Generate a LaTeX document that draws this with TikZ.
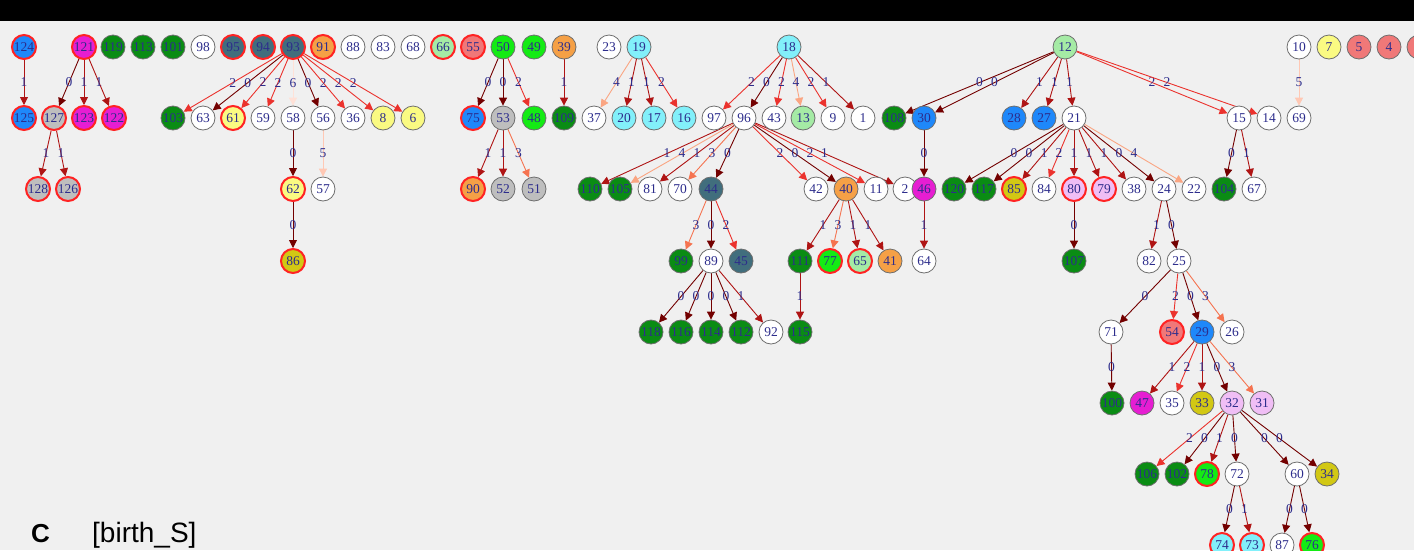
\documentclass[tikz,border=0pt]{standalone}
\usepackage{fontspec}
\setmainfont{Liberation Serif}
\newfontfamily\panelsans{Liberation Sans}
\usetikzlibrary{arrows.meta}

\newcommand\nfsize{\fontsize{13.5}{14}\selectfont}

\definecolor{bgpanel}{RGB}{240,240,240}
\definecolor{numblue}{RGB}{45,45,140}
\definecolor{ringgray}{RGB}{110,110,110}
\definecolor{ringred}{RGB}{255,35,35}
% node fills
\definecolor{cBlue}{RGB}{30,136,250}
\definecolor{cMag}{RGB}{230,30,210}
\definecolor{cGreen}{RGB}{10,140,20}
\definecolor{cSlate}{RGB}{65,110,125}
\definecolor{cOrange}{RGB}{245,160,70}
\definecolor{cGray}{RGB}{190,190,190}
\definecolor{cPale}{RGB}{165,235,165}
\definecolor{cSalmon}{RGB}{240,120,120}
\definecolor{cLime}{RGB}{20,235,20}
\definecolor{cYellow}{RGB}{250,250,130}
\definecolor{cOlive}{RGB}{210,200,20}
\definecolor{cCyan}{RGB}{130,240,250}
\definecolor{cPink}{RGB}{240,190,245}
% edge weights 0..6
\definecolor{ec0}{RGB}{115,0,0}
\definecolor{ec1}{RGB}{175,20,20}
\definecolor{ec2}{RGB}{235,50,45}
\definecolor{ec3}{RGB}{245,115,80}
\definecolor{ec4}{RGB}{250,165,130}
\definecolor{ec5}{RGB}{255,200,180}
\definecolor{ec6}{RGB}{255,225,215}

\pgfdeclarelayer{backdrop}
\pgfdeclarelayer{edges}
\pgfsetlayers{backdrop,edges,main}

\begin{document}
\begin{tikzpicture}[x=1pt, y=-1pt,
  nd/.style={circle, draw=ringgray, line width=0.8pt, fill=white,
    minimum size=24pt, inner sep=0pt, text=numblue, font=\nfsize},
  hl/.style={draw=ringred, line width=2pt},
  fblue/.style={fill=cBlue}, fmag/.style={fill=cMag},
  fgreen/.style={fill=cGreen}, fslate/.style={fill=cSlate},
  forange/.style={fill=cOrange}, fgray/.style={fill=cGray},
  fpale/.style={fill=cPale}, fsalmon/.style={fill=cSalmon},
  flime/.style={fill=cLime}, fyellow/.style={fill=cYellow},
  folive/.style={fill=cOlive}, fcyan/.style={fill=cCyan},
  fpink/.style={fill=cPink},
  ed/.style={line width=0.9pt, -{Triangle[length=8pt,width=8pt]}},
  w0/.style={ed, draw=ec0}, w1/.style={ed, draw=ec1},
  w2/.style={ed, draw=ec2}, w3/.style={ed, draw=ec3},
  w4/.style={ed, draw=ec4}, w5/.style={ed, draw=ec5},
  w6/.style={ed, draw=ec6},
  elab/.style={midway, inner sep=0pt, text=numblue, font=\nfsize}]

  \def\rA{47}
  \def\rB{118}
  \def\rC{189}
  \def\rD{261}
  \def\rE{332}
  \def\rF{403}
  \def\rG{474}
  \def\rH{545}

  \useasboundingbox (0,0) rectangle (1414,550);
  \begin{pgfonlayer}{backdrop}
    \fill[bgpanel] (0,0) rectangle (1414,550);
    \fill[black] (0,0) rectangle (1414,21);
  \end{pgfonlayer}

  % row 1
  \node[nd, fblue, hl] (n124) at (24,\rA) {124};
  \node[nd, fmag, hl] (n121) at (84,\rA) {121};
  \node[nd, fgreen] (n119) at (113,\rA) {119};
  \node[nd, fgreen] (n113) at (143,\rA) {113};
  \node[nd, fgreen] (n101) at (173,\rA) {101};
  \node[nd] (n98) at (203,\rA) {98};
  \node[nd, fslate, hl] (n95) at (233,\rA) {95};
  \node[nd, fslate, hl] (n94) at (263,\rA) {94};
  \node[nd, fslate, hl] (n93) at (293,\rA) {93};
  \node[nd, forange, hl] (n91) at (323,\rA) {91};
  \node[nd] (n88) at (353,\rA) {88};
  \node[nd] (n83) at (383,\rA) {83};
  \node[nd] (n68) at (413,\rA) {68};
  \node[nd, fpale, hl] (n66) at (443,\rA) {66};
  \node[nd, fsalmon, hl] (n55) at (473,\rA) {55};
  \node[nd, flime] (n50) at (503,\rA) {50};
  \node[nd, flime] (n49) at (534,\rA) {49};
  \node[nd, forange] (n39) at (564,\rA) {39};
  \node[nd] (n23) at (609,\rA) {23};
  \node[nd, fcyan] (n19) at (639,\rA) {19};
  \node[nd, fcyan] (n18) at (789,\rA) {18};
  \node[nd, fpale] (n12) at (1065,\rA) {12};
  \node[nd] (n10) at (1299,\rA) {10};
  \node[nd, fyellow] (n7) at (1329,\rA) {7};
  \node[nd, fsalmon] (n5) at (1359,\rA) {5};
  \node[nd, fsalmon] (n4) at (1389,\rA) {4};
  \node[nd, fsalmon] (ncut) at (1419,\rA) {};

  % row 2
  \node[nd, fblue, hl] (n125) at (24,\rB) {125};
  \node[nd, fgray, hl] (n127) at (54,\rB) {127};
  \node[nd, fmag, hl] (n123) at (84,\rB) {123};
  \node[nd, fmag, hl] (n122) at (114,\rB) {122};
  \node[nd, fgreen] (n103) at (173,\rB) {103};
  \node[nd] (n63) at (203,\rB) {63};
  \node[nd, fyellow, hl] (n61) at (233,\rB) {61};
  \node[nd] (n59) at (263,\rB) {59};
  \node[nd] (n58) at (293,\rB) {58};
  \node[nd] (n56) at (323,\rB) {56};
  \node[nd] (n36) at (353,\rB) {36};
  \node[nd, fyellow] (n8) at (383,\rB) {8};
  \node[nd, fyellow] (n6) at (413,\rB) {6};
  \node[nd, fblue, hl] (n75) at (473,\rB) {75};
  \node[nd, fgray] (n53) at (503,\rB) {53};
  \node[nd, flime] (n48) at (534,\rB) {48};
  \node[nd, fgreen] (n109) at (564,\rB) {109};
  \node[nd] (n37) at (594,\rB) {37};
  \node[nd, fcyan] (n20) at (624,\rB) {20};
  \node[nd, fcyan] (n17) at (654,\rB) {17};
  \node[nd, fcyan] (n16) at (684,\rB) {16};
  \node[nd] (n97) at (714,\rB) {97};
  \node[nd] (n96) at (744,\rB) {96};
  \node[nd] (n43) at (774,\rB) {43};
  \node[nd, fpale] (n13) at (803,\rB) {13};
  \node[nd] (n9) at (833,\rB) {9};
  \node[nd] (n1) at (863,\rB) {1};
  \node[nd, fgreen] (n108) at (894,\rB) {108};
  \node[nd, fblue] (n30) at (924,\rB) {30};
  \node[nd, fblue] (n28) at (1014,\rB) {28};
  \node[nd, fblue] (n27) at (1044,\rB) {27};
  \node[nd] (n21) at (1074,\rB) {21};
  \node[nd] (n15) at (1239,\rB) {15};
  \node[nd] (n14) at (1269,\rB) {14};
  \node[nd] (n69) at (1299,\rB) {69};

  % row 3
  \node[nd, fgray, hl] (n128) at (38,\rC) {128};
  \node[nd, fgray, hl] (n126) at (68,\rC) {126};
  \node[nd, fyellow, hl] (n62) at (293,\rC) {62};
  \node[nd] (n57) at (323,\rC) {57};
  \node[nd, forange, hl] (n90) at (473,\rC) {90};
  \node[nd, fgray] (n52) at (503,\rC) {52};
  \node[nd, fgray] (n51) at (534,\rC) {51};
  \node[nd, fgreen] (n110) at (590,\rC) {110};
  \node[nd, fgreen] (n105) at (620,\rC) {105};
  \node[nd] (n81) at (650,\rC) {81};
  \node[nd] (n70) at (680,\rC) {70};
  \node[nd, fslate] (n44) at (711,\rC) {44};
  \node[nd] (n42) at (816,\rC) {42};
  \node[nd, forange] (n40) at (846,\rC) {40};
  \node[nd] (n11) at (876,\rC) {11};
  \node[nd] (n2) at (905,\rC) {2};
  \node[nd, fmag] (n46) at (924,\rC) {46};
  \node[nd, fgreen] (n120) at (954,\rC) {120};
  \node[nd, fgreen] (n117) at (984,\rC) {117};
  \node[nd, folive, hl] (n85) at (1014,\rC) {85};
  \node[nd] (n84) at (1044,\rC) {84};
  \node[nd, fpink, hl] (n80) at (1074,\rC) {80};
  \node[nd, fpink, hl] (n79) at (1104,\rC) {79};
  \node[nd] (n38) at (1134,\rC) {38};
  \node[nd] (n24) at (1164,\rC) {24};
  \node[nd] (n22) at (1194,\rC) {22};
  \node[nd, fgreen] (n104) at (1224,\rC) {104};
  \node[nd] (n67) at (1254,\rC) {67};

  % row 4
  \node[nd, folive, hl] (n86) at (293,\rD) {86};
  \node[nd, fgreen] (n99) at (681,\rD) {99};
  \node[nd] (n89) at (711,\rD) {89};
  \node[nd, fslate] (n45) at (741,\rD) {45};
  \node[nd, fgreen] (n111) at (800,\rD) {111};
  \node[nd, flime, hl] (n77) at (830,\rD) {77};
  \node[nd, fpale, hl] (n65) at (860,\rD) {65};
  \node[nd, forange] (n41) at (890,\rD) {41};
  \node[nd] (n64) at (924,\rD) {64};
  \node[nd, fgreen] (n107) at (1074,\rD) {107};
  \node[nd] (n82) at (1149,\rD) {82};
  \node[nd] (n25) at (1179,\rD) {25};

  % row 5
  \node[nd, fgreen] (n118) at (651,\rE) {118};
  \node[nd, fgreen] (n116) at (681,\rE) {116};
  \node[nd, fgreen] (n114) at (711,\rE) {114};
  \node[nd, fgreen] (n112) at (741,\rE) {112};
  \node[nd] (n92) at (771,\rE) {92};
  \node[nd, fgreen] (n115) at (800,\rE) {115};
  \node[nd] (n71) at (1111,\rE) {71};
  \node[nd, fsalmon, hl] (n54) at (1172,\rE) {54};
  \node[nd, fblue] (n29) at (1202,\rE) {29};
  \node[nd] (n26) at (1232,\rE) {26};

  % row 6
  \node[nd, fgreen] (n100) at (1112,\rF) {100};
  \node[nd, fmag] (n47) at (1142,\rF) {47};
  \node[nd] (n35) at (1172,\rF) {35};
  \node[nd, folive] (n33) at (1202,\rF) {33};
  \node[nd, fpink] (n32) at (1232,\rF) {32};
  \node[nd, fpink] (n31) at (1262,\rF) {31};

  % row 7
  \node[nd, fgreen] (n106) at (1147,\rG) {106};
  \node[nd, fgreen] (n102) at (1177,\rG) {102};
  \node[nd, flime, hl] (n78) at (1207,\rG) {78};
  \node[nd] (n72) at (1237,\rG) {72};
  \node[nd] (n60) at (1297,\rG) {60};
  \node[nd, folive] (n34) at (1327,\rG) {34};

  % row 8 (cut by the frame)
  \node[nd, fcyan, hl] (n74) at (1222,\rH) {74};
  \node[nd, fcyan, hl] (n73) at (1252,\rH) {73};
  \node[nd] (n87) at (1282,\rH) {87};
  \node[nd, flime, hl] (n76) at (1312,\rH) {76};

  \begin{pgfonlayer}{edges}
  % left trees
  \draw[w1] (n124) -- node[elab] {1} (n125);
  \draw[w0] (n121) -- node[elab] {0} (n127);
  \draw[w1] (n121) -- node[elab] {1} (n123);
  \draw[w1] (n121) -- node[elab] {1} (n122);
  \draw[w1] (n127) -- node[elab] {1} (n128);
  \draw[w1] (n127) -- node[elab] {1} (n126);

  % tree of 93
  \draw[w2] (n93) -- node[elab] {2} (n103);
  \draw[w0] (n93) -- node[elab] {0} (n63);
  \draw[w2] (n93) -- node[elab] {2} (n61);
  \draw[w2] (n93) -- node[elab] {2} (n59);
  \draw[w6] (n93) -- node[elab] {6} (n58);
  \draw[w0] (n93) -- node[elab] {0} (n56);
  \draw[w2] (n93) -- node[elab] {2} (n36);
  \draw[w2] (n93) -- node[elab] {2} (n8);
  \draw[w2] (n93) -- node[elab] {2} (n6);
  \draw[w0] (n58) -- node[elab] {0} (n62);
  \draw[w5] (n56) -- node[elab] {5} (n57);
  \draw[w0] (n62) -- node[elab] {0} (n86);

  % tree of 50, 39, 19
  \draw[w0] (n50) -- node[elab] {0} (n75);
  \draw[w0] (n50) -- node[elab] {0} (n53);
  \draw[w2] (n50) -- node[elab] {2} (n48);
  \draw[w1] (n53) -- node[elab] {1} (n90);
  \draw[w1] (n53) -- node[elab] {1} (n52);
  \draw[w3] (n53) -- node[elab] {3} (n51);
  \draw[w1] (n39) -- node[elab] {1} (n109);
  \draw[w4] (n19) -- node[elab] {4} (n37);
  \draw[w1] (n19) -- node[elab] {1} (n20);
  \draw[w1] (n19) -- node[elab] {1} (n17);
  \draw[w2] (n19) -- node[elab] {2} (n16);

  % tree of 18
  \draw[w2] (n18) -- node[elab] {2} (n97);
  \draw[w0] (n18) -- node[elab] {0} (n96);
  \draw[w2] (n18) -- node[elab] {2} (n43);
  \draw[w4] (n18) -- node[elab] {4} (n13);
  \draw[w2] (n18) -- node[elab] {2} (n9);
  \draw[w1] (n18) -- node[elab] {1} (n1);
  \draw[w1] (n96) -- node[elab] {1} (n110);
  \draw[w4] (n96) -- node[elab] {4} (n105);
  \draw[w1] (n96) -- node[elab] {1} (n81);
  \draw[w3] (n96) -- node[elab] {3} (n70);
  \draw[w0] (n96) -- node[elab] {0} (n44);
  \draw[w2] (n96) -- node[elab] {2} (n42);
  \draw[w0] (n96) -- node[elab] {0} (n40);
  \draw[w2] (n96) -- node[elab] {2} (n11);
  \draw[w1] (n96) -- node[elab] {1} (n2);
  \draw[w3] (n44) -- node[elab] {3} (n99);
  \draw[w0] (n44) -- node[elab] {0} (n89);
  \draw[w2] (n44) -- node[elab] {2} (n45);
  \draw[w0] (n89) -- node[elab] {0} (n118);
  \draw[w0] (n89) -- node[elab] {0} (n116);
  \draw[w0] (n89) -- node[elab] {0} (n114);
  \draw[w0] (n89) -- node[elab] {0} (n112);
  \draw[w1] (n89) -- node[elab] {1} (n92);
  \draw[w1] (n40) -- node[elab] {1} (n111);
  \draw[w3] (n40) -- node[elab] {3} (n77);
  \draw[w1] (n40) -- node[elab] {1} (n65);
  \draw[w1] (n40) -- node[elab] {1} (n41);
  \draw[w1] (n111) -- node[elab] {1} (n115);

  % tree of 12
  \draw[w0] (n12) -- node[elab] {0} (n108);
  \draw[w0] (n12) -- node[elab] {0} (n30);
  \draw[w1] (n12) -- node[elab] {1} (n28);
  \draw[w1] (n12) -- node[elab] {1} (n27);
  \draw[w1] (n12) -- node[elab] {1} (n21);
  \draw[w2] (n12) -- node[elab] {2} (n15);
  \draw[w2] (n12) -- node[elab] {2} (n14);
  \draw[w0] (n30) -- node[elab] {0} (n46);
  \draw[w1] (n46) -- node[elab] {1} (n64);
  \draw[w0] (n21) -- node[elab] {0} (n120);
  \draw[w0] (n21) -- node[elab] {0} (n117);
  \draw[w1] (n21) -- node[elab] {1} (n85);
  \draw[w2] (n21) -- node[elab] {2} (n84);
  \draw[w1] (n21) -- node[elab] {1} (n80);
  \draw[w1] (n21) -- node[elab] {1} (n79);
  \draw[w1] (n21) -- node[elab] {1} (n38);
  \draw[w0] (n21) -- node[elab] {0} (n24);
  \draw[w4] (n21) -- node[elab] {4} (n22);
  \draw[w0] (n80) -- node[elab] {0} (n107);
  \draw[w0] (n15) -- node[elab] {0} (n104);
  \draw[w1] (n15) -- node[elab] {1} (n67);
  \draw[w1] (n24) -- node[elab] {1} (n82);
  \draw[w0] (n24) -- node[elab] {0} (n25);
  \draw[w0] (n25) -- node[elab] {0} (n71);
  \draw[w2] (n25) -- node[elab] {2} (n54);
  \draw[w0] (n25) -- node[elab] {0} (n29);
  \draw[w3] (n25) -- node[elab] {3} (n26);
  \draw[w0] (n71) -- node[elab] {0} (n100);
  \draw[w1] (n29) -- node[elab] {1} (n47);
  \draw[w2] (n29) -- node[elab] {2} (n35);
  \draw[w1] (n29) -- node[elab] {1} (n33);
  \draw[w0] (n29) -- node[elab] {0} (n32);
  \draw[w3] (n29) -- node[elab] {3} (n31);
  \draw[w2] (n32) -- node[elab] {2} (n106);
  \draw[w0] (n32) -- node[elab] {0} (n102);
  \draw[w1] (n32) -- node[elab] {1} (n78);
  \draw[w0] (n32) -- node[elab] {0} (n72);
  \draw[w0] (n32) -- node[elab] {0} (n60);
  \draw[w0] (n32) -- node[elab] {0} (n34);
  \draw[w0] (n72) -- node[elab] {0} (n74);
  \draw[w1] (n72) -- node[elab] {1} (n73);
  \draw[w0] (n60) -- node[elab] {0} (n87);
  \draw[w0] (n60) -- node[elab] {0} (n76);

  % tree of 10
  \draw[w5] (n10) -- node[elab] {5} (n69);
  \end{pgfonlayer}

  % panel tag
  \node[anchor=base west, inner sep=0pt, font=\panelsans\bfseries\fontsize{26}{26}\selectfont]
    (tag) at (31,542) {C};
  \node[anchor=base west, inner sep=0pt, font=\panelsans\fontsize{28}{28}\selectfont]
    (mode) at (92,542) {[birth\_S]};

\end{tikzpicture}
\end{document}
